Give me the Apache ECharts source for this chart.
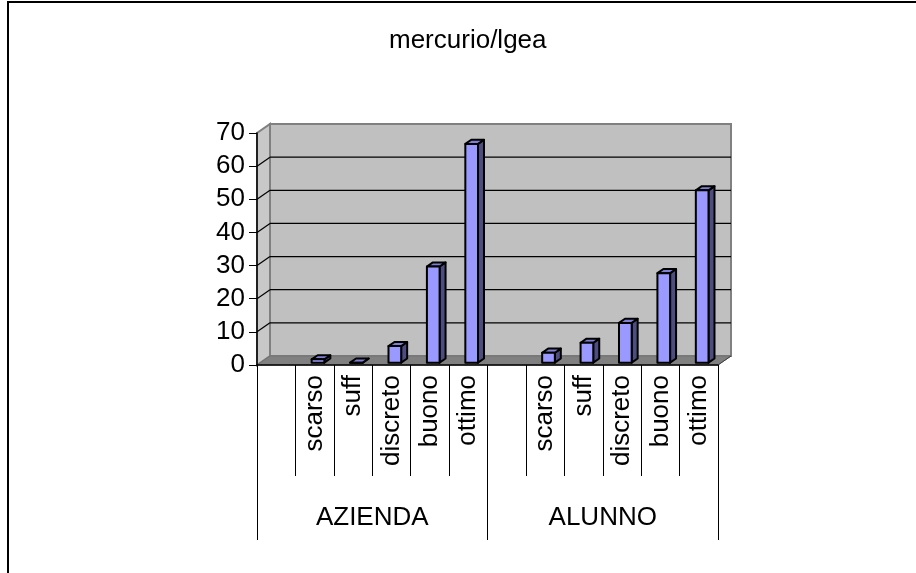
<!DOCTYPE html>
<html><head><meta charset="utf-8">
<script src="https://cdn.jsdelivr.net/npm/echarts@6/dist/echarts.min.js"></script>
<style>html,body{margin:0;padding:0;background:#fff}#c{width:916px;height:573px}</style>
</head><body><div id="c"></div>
<script>
const chartTitle = 'mercurio/lgea';
const groups = ['AZIENDA', 'ALUNNO'];
const subCategories = ['', 'scarso', 'suff', 'discreto', 'buono', 'ottimo'];
const aziendaValues = [null, 1, 0, 5, 29, 66];
const alunnoValues = [null, 3, 6, 12, 27, 52];
const yTicks = [0, 10, 20, 30, 40, 50, 60, 70];

const FONT = "'Liberation Sans', Arial, sans-serif";
const DX = 13, DY = -9;        // depth offset of back wall (px)
const F1 = 0.26, F2 = 0.72;    // bar front/back depth fractions

const categories = groups.flatMap(() => subCategories);
const values = aziendaValues.concat(alunnoValues);
const barData = [];
values.forEach((v, i) => { if (v !== null) barData.push([i, v]); });

function renderWalls(params, api) {
  const cs = params.coordSys;
  const L = cs.x, R = cs.x + cs.width, T = cs.y, B = cs.y + cs.height;
  const children = [];
  children.push({type: 'rect', shape: {x: L + DX, y: T + DY, width: R - L, height: B - T},
    style: {fill: '#c0c0c0', stroke: '#808080', lineWidth: 2}});
  children.push({type: 'polygon', shape: {points: [[L, B], [L, T], [L + DX, T + DY], [L + DX, B + DY]]},
    style: {fill: '#c8c8c8', stroke: '#808080', lineWidth: 2}});
  yTicks.forEach(t => {
    if (t === yTicks[0] || t === yTicks[yTicks.length - 1]) return;
    const y = api.coord([0, t])[1];
    children.push({type: 'line', shape: {x1: L + DX, y1: y + DY, x2: R + DX, y2: y + DY},
      style: {stroke: '#000', lineWidth: 1.2}});
    children.push({type: 'line', shape: {x1: L, y1: y, x2: L + DX, y2: y + DY},
      style: {stroke: '#000', lineWidth: 1.2}});
  });
  children.push({type: 'polygon', shape: {points: [[L, B], [R, B], [R + DX, B + DY], [L + DX, B + DY]]},
    style: {fill: '#808080', stroke: '#707070', lineWidth: 1}});
  children.push({type: 'line', shape: {x1: R, y1: B, x2: R + DX, y2: B + DY},
    style: {stroke: '#404040', lineWidth: 1}});
  return {type: 'group', children};
}

function renderBar(params, api) {
  const i = api.value(0), v = api.value(1);
  const base = api.coord([i, 0]);
  const top = api.coord([i, v]);
  const w = api.size([1, 0])[0] * 0.33;
  const x0 = base[0] - w / 2 + DX * F1, x1 = x0 + w;
  const yb = base[1] + DY * F1, yt = top[1] + DY * F1;
  const ox = DX * (F2 - F1), oy = DY * (F2 - F1);
  const st = {stroke: '#000', lineWidth: 2, lineJoin: 'round'};
  return {type: 'group', children: [
    {type: 'polygon', shape: {points: [[x1, yb], [x1 + ox, yb + oy], [x1 + ox, yt + oy], [x1, yt]]},
      style: Object.assign({fill: '#4d4d80'}, st)},
    {type: 'polygon', shape: {points: [[x0, yt], [x1, yt], [x1 + ox, yt + oy], [x0 + ox, yt + oy]]},
      style: Object.assign({fill: '#7f7fd4'}, st)},
    {type: 'rect', shape: {x: x0, y: yt, width: w, height: yb - yt},
      style: Object.assign({fill: '#9999ff'}, st)}
  ]};
}

const chart = echarts.init(document.getElementById('c'), null, {renderer: 'canvas'});
chart.setOption({
  animation: false,
  backgroundColor: '#fff',
  textStyle: {fontFamily: FONT},
  title: {text: chartTitle, left: 384, top: 23,
    textStyle: {fontFamily: FONT, fontSize: 26, fontWeight: 'normal', color: '#000'}},
  graphic: [{type: 'rect', shape: {x: 8, y: 2, width: 1000, height: 1000}, silent: true,
    style: {fill: 'none', stroke: '#000', lineWidth: 2}}],
  grid: {left: 257, top: 133, width: 461, height: 232},
  xAxis: [{
    type: 'category', data: categories, position: 'bottom', boundaryGap: true, z: 5,
    axisLine: {show: true, lineStyle: {color: '#000', width: 1.5}},
    axisTick: {show: true, interval: 0, alignWithLabel: false, length: 111, lineStyle: {color: '#000', width: 1}},
    axisLabel: {show: true, interval: 0, rotate: 90, margin: 10, fontSize: 26, color: '#000', fontFamily: FONT},
    splitLine: {show: false}
  }, {
    type: 'category', data: groups, position: 'bottom', boundaryGap: true, z: 5,
    axisLine: {show: false},
    axisTick: {show: true, interval: 0, alignWithLabel: false, length: 175, lineStyle: {color: '#000', width: 1}},
    axisLabel: {show: true, interval: 0, margin: 140, fontSize: 26, color: '#000', fontFamily: FONT},
    splitLine: {show: false}
  }],
  yAxis: {
    type: 'value', min: 0, max: 70, interval: 10, z: 5,
    axisLine: {show: true, lineStyle: {color: '#000', width: 1.5}},
    axisTick: {show: true, length: 8, lineStyle: {color: '#000'}},
    axisLabel: {margin: 12, fontSize: 26, color: '#000', fontFamily: FONT},
    splitLine: {show: false}
  },
  series: [{
    type: 'custom', name: 'walls', z: 1, silent: true,
    data: [[0, 0]], renderItem: renderWalls, clip: false
  }, {
    type: 'custom', name: 'valori', z: 3,
    data: barData, renderItem: renderBar, clip: false
  }]
});
</script></body></html>
